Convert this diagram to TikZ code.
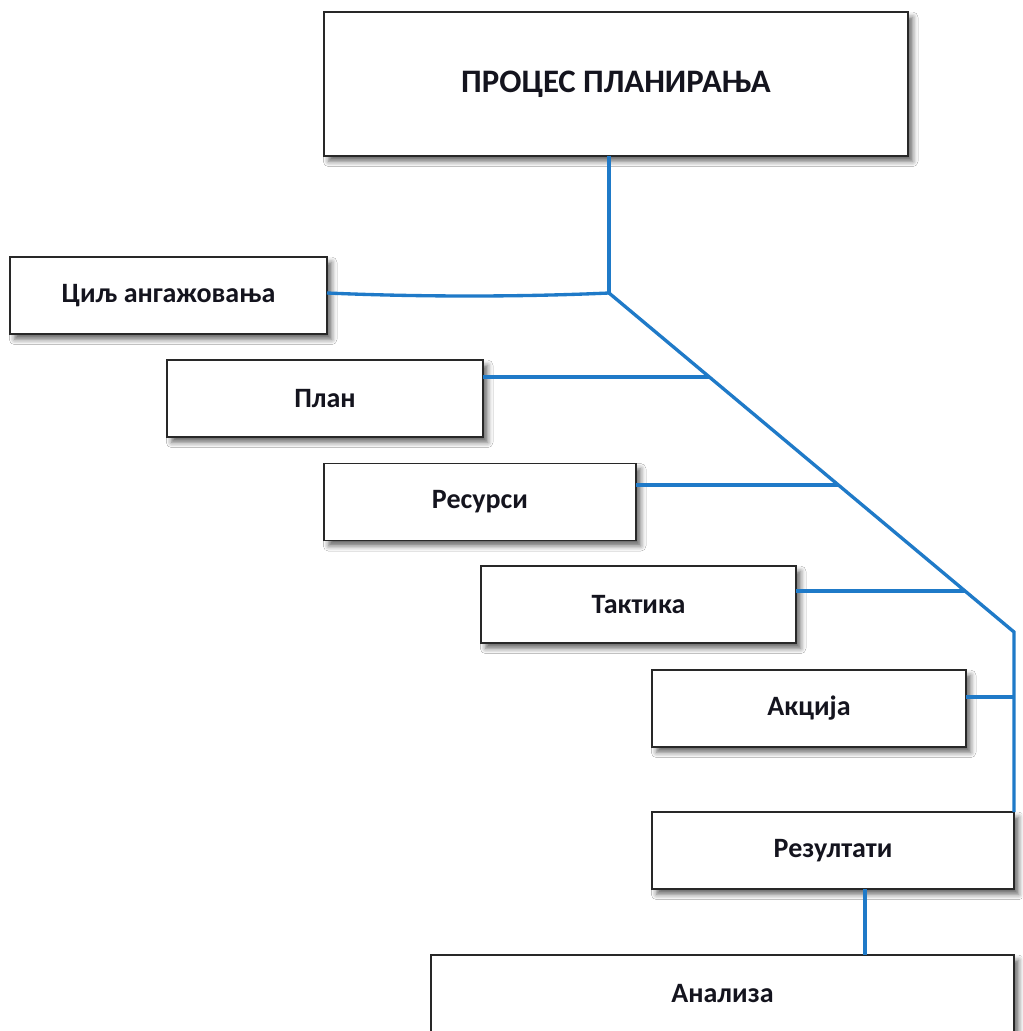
\documentclass[tikz,border=0pt]{standalone}
\usepackage{fontspec}
\setmainfont{Carlito}
\usetikzlibrary{calc,shadows.blur}
\definecolor{linkblue}{RGB}{31,122,200}
\definecolor{boxline}{RGB}{40,40,40}
\definecolor{txt}{RGB}{20,20,30}
\begin{document}
\begin{tikzpicture}[x=0.75pt,y=-0.75pt,
  box/.style={draw=boxline,fill=white,line width=1.1pt,inner sep=0pt,outer sep=0pt,
    minimum height=57.75pt,text=txt,font=\fontsize{21}{25}\selectfont\bfseries,
    blur shadow={shadow xshift=3.5pt,shadow yshift=-4pt,shadow blur radius=4pt,shadow opacity=60}},
  conn/.style={draw=linkblue,line width=2.5pt}]
\useasboundingbox[fill=white] (0,0) rectangle (1022,1031);
% boxes
\node[box,minimum width=438pt,minimum height=108pt,font=\fontsize{24.6}{28}\selectfont\bfseries] (top) at (616,84) {ПРОЦЕС ПЛАНИРАЊА};
\node[box,minimum width=237.75pt] (cilj) at (168.5,295.5) {Циљ ангажовања};
\node[box,minimum width=237pt] (plan) at (325,398.5) {План};
\node[box,minimum width=234pt] (res) at (480,502) {Ресурси};
\node[box,minimum width=236.25pt] (tak) at (638.5,604.5) {Тактика};
\node[box,minimum width=235.5pt] (akc) at (809,708.5) {Акција};
\node[box,minimum width=271.5pt] (rez) at (833,850.5) {Резултати};
\node[box,minimum width=437.25pt] (ana) at (722.5,993.5) {Анализа};
% junction coordinates
\coordinate (j1) at (609,293);
\coordinate (j2) at (1014,632);
\coordinate (d1) at ($(j1)!0.2478!(j2)$);
\coordinate (d2) at ($(j1)!0.5664!(j2)$);
\coordinate (d3) at ($(j1)!0.8791!(j2)$);
\coordinate (a4) at (1014,697);
\coordinate (v) at (865,900);
% connectors
\draw[conn] (top.south -| j1) -- (j1);
\draw[conn] (cilj.east |- j1) .. controls (420,297) and (520,297) .. (j1);
\draw[conn,line join=miter] (j1) -- (j2) -- (rez.north east);
\draw[conn] (plan.east |- d1) -- (d1);
\draw[conn] (res.east |- d2) -- (d2);
\draw[conn] (tak.east |- d3) -- (d3);
\draw[conn] (akc.east |- a4) -- (a4);
\draw[conn] (rez.south -| v) -- (ana.north -| v);
\end{tikzpicture}
\end{document}
